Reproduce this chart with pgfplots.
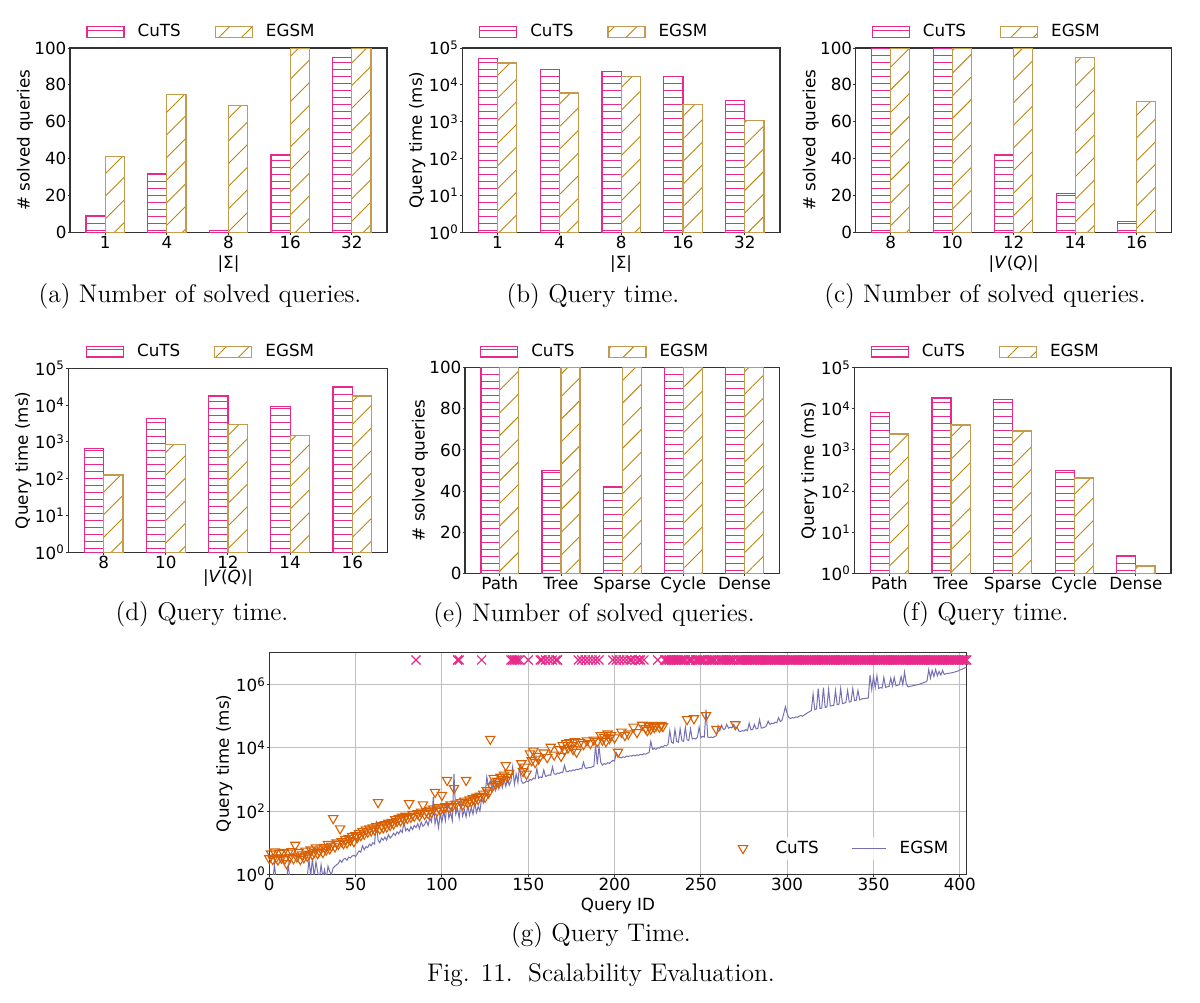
\documentclass[border=0pt]{standalone}
\usepackage{fontspec}
\setsansfont{DejaVu Sans}
\usepackage{pgfplots}
\pgfplotsset{compat=1.18}
\usetikzlibrary{patterns.meta}
\definecolor{cutspink}{HTML}{E7298A}
\definecolor{egsmgold}{HTML}{B8860B}
\definecolor{egsmedge}{HTML}{C49A4E}
\definecolor{triorange}{HTML}{D95F02}
\definecolor{egsmline}{HTML}{7570B3}
\tikzdeclarepattern{
  name=cutshatch,
  type=colored,
  bottom left={(0bp,0bp)},
  top right={(3.7bp,3.7bp)},
  tile size={(3.7bp,3.7bp)},
  code={\draw[cutspink, line width=0.45bp] (0bp,1.85bp) -- (3.7bp,1.85bp);}
}
\newcommand{\axfont}{\sffamily\fontsize{8.4}{10}\selectfont}
\newcommand{\capfont}{\rmfamily\fontsize{12.8}{15}\selectfont}
\pgfplotsset{
  common/.style={
    scale only axis,
    anchor=north west,
    font=\axfont,
    axis line style={black!80, line width=0.55bp},
    tick style={black!80, line width=0.5bp},
    major tick length=1.2bp,
    minor tick num=0,
    xminorticks=false,
    yminorticks=false,
    tick align=outside,
    tick pos=left,
    ticklabel style={font=\axfont},
    yticklabel style={inner xsep=0.4bp},
    xticklabel style={inner ysep=0.5bp},
    label style={font=\axfont},
    every axis y label/.style={at={(rel axis cs:0,0.5)}, xshift=-22.5bp, rotate=90, anchor=center},
    every axis x label/.style={at={(rel axis cs:0.5,0)}, yshift=-16bp, anchor=center},
  },
  barchart/.style={
    common,
    ybar=0pt,
    bar width=0.31,
    xmin=-0.57, xmax=4.57,
    xtick={0,1,2,3,4},
    legend columns=2,
    legend style={at={(0.5,1)}, anchor=south, xshift=-14bp, yshift=3bp,
      draw=none, fill=none, inner sep=0bp, font=\axfont,
      nodes={inner xsep=0bp, inner ysep=1bp},
      /tikz/every odd column/.style={column sep=6.5bp},
      /tikz/every even column/.style={column sep=17bp}},
  },
  linbar/.style={barchart, ymin=0, ymax=100, ytick={0,20,40,60,80,100}, yticklabels={0,20,40,60,80,100}},
  logbar/.style={barchart, ymin=1, ymax=1e5,
    ytick={1,10,100,1000,10000,100000},
    yticklabels={10\textsuperscript{0},10\textsuperscript{1},10\textsuperscript{2},10\textsuperscript{3},10\textsuperscript{4},10\textsuperscript{5}}},
  cuts/.style={draw=cutspink, line width=0.6bp,
    pattern=cutshatch,
    legend image code/.code={\draw[##1] (0bp,-2.75bp) rectangle (18.5bp,2.75bp);}},
  egsm/.style={draw=egsmedge, line width=0.6bp,
    pattern={Lines[angle=45,distance=8bp,line width=0.45bp]}, pattern color=egsmgold,
    legend image code/.code={\draw[##1] (0bp,-2.75bp) rectangle (18.5bp,2.75bp);}},
  trilegend/.style={legend image code/.code={\draw[##1] plot coordinates {(7.5bp,0bp)}; \path (0bp,0bp) (17bp,0bp);}},
}
\begin{document}
\begin{tikzpicture}
\path[use as bounding box] (0,0) rectangle (600bp,-501.5bp);

% (a)
\begin{axis}[linbar, at={(35bp,-24bp)}, width=158.5bp, height=92.25bp,
  xticklabels={1,4,8,16,32}, xlabel={|Σ|}, ylabel={\# solved queries}]
\addplot[cuts] coordinates {(0,9) (1,32) (2,1) (3,42) (4,95)};
\addplot[egsm] coordinates {(0,41) (1,75) (2,69) (3,100) (4,100)};
\legend{CuTS,EGSM}
\end{axis}

% (b)
\begin{axis}[ymode=log, log origin=0, logbar, at={(231.15bp,-24bp)}, width=158.85bp, height=92.25bp,
  xticklabels={1,4,8,16,32}, xlabel={|Σ|}, ylabel={Query time (ms)}]
\addplot[cuts] coordinates {(0,51000) (1,25800) (2,23200) (3,17000) (4,3780)};
\addplot[egsm] coordinates {(0,39000) (1,6000) (2,17000) (3,2880) (4,1060)};
\legend{CuTS,EGSM}
\end{axis}

% (c)
\begin{axis}[linbar, at={(427.85bp,-24bp)}, width=158bp, height=92.25bp,
  xticklabels={8,10,12,14,16}, xlabel={|\textit{V}(\textit{Q})|}, ylabel={\# solved queries}]
\addplot[cuts] coordinates {(0,100) (1,100) (2,42) (3,21) (4,6)};
\addplot[egsm] coordinates {(0,100) (1,100) (2,100) (3,95) (4,71)};
\legend{CuTS,EGSM}
\end{axis}

% (d)
\begin{axis}[ymode=log, log origin=0, logbar, at={(34.15bp,-184.15bp)}, width=159.7bp, height=92bp,
  xticklabels={8,10,12,14,16}, xlabel={|\textit{V}(\textit{Q})|}, ylabel={Query time (ms)},
  every axis x label/.style={at={(rel axis cs:0.5,0)}, yshift=-13bp, anchor=center}]
\addplot[cuts] coordinates {(0,670) (1,4380) (2,17700) (3,9300) (4,31800)};
\addplot[egsm] coordinates {(0,126) (1,861) (2,2940) (3,1480) (4,17700)};
\legend{CuTS,EGSM}
\end{axis}

% (e)
\begin{axis}[linbar, at={(232.5bp,-183.85bp)}, width=157.15bp, height=102.8bp,
  xticklabels={Path,Tree,Sparse,Cycle,Dense}, ylabel={\# solved queries}]
\addplot[cuts] coordinates {(0,100) (1,50) (2,42) (3,100) (4,100)};
\addplot[egsm] coordinates {(0,100) (1,100) (2,100) (3,100) (4,100)};
\legend{CuTS,EGSM}
\end{axis}

% (f)
\begin{axis}[ymode=log, log origin=0, logbar, at={(427.15bp,-183.85bp)}, width=158.35bp, height=102.8bp,
  xticklabels={Path,Tree,Sparse,Cycle,Dense}, ylabel={Query time (ms)}]
\addplot[cuts] coordinates {(0,8200) (1,18300) (2,16700) (3,313) (4,2.74)};
\addplot[egsm] coordinates {(0,2440) (1,4040) (2,2880) (3,208) (4,1.51)};
\legend{CuTS,EGSM}
\end{axis}

% (g)
\begin{axis}[common, at={(134.65bp,-326.15bp)}, width=348.7bp, height=111bp,
  ymode=log, xmin=0, xmax=404, ymin=1, ymax=1.05e7,
  xtick={0,50,100,150,200,250,300,350,400},
  xticklabels={0,50,100,150,200,250,300,350,400},
  ytick={1,100,10000,1000000},
  yticklabels={10\textsuperscript{0},10\textsuperscript{2},10\textsuperscript{4},10\textsuperscript{6}},
  grid=major, major grid style={black!25, line width=0.5bp},
  xlabel={Query ID}, ylabel={Query time (ms)},
  legend columns=2,
  legend style={at={(1,0)}, anchor=east, xshift=-8bp, yshift=13bp,
    draw=none, fill=white, fill opacity=0.8, text opacity=1, inner sep=1bp, font=\axfont,
    nodes={inner xsep=0bp, inner ysep=1bp},
    /tikz/every odd column/.style={column sep=6.5bp},
    /tikz/every even column/.style={column sep=16.5bp}}]
\addplot[only marks, mark=triangle, mark size=2.7bp, draw=triorange, line width=0.55bp,
  mark options={rotate=180, fill=none, draw=triorange}, trilegend] coordinates {
(0,3.2) (1,4.5) (2,3.0) (3,5.2) (4,3.4) (5,2.9) (6,4.6) (7,3.3) (8,5.0) (9,3.1)
(10,2.2) (11,4.8) (12,3.5) (13,5.3) (14,3.2) (15,8.5) (16,3.6) (17,5.0) (18,3.0) (19,4.2)
(20,3.4) (21,5.5) (22,3.8) (23,4.4) (24,6.0) (25,4.2) (26,5.0) (27,7.0) (28,4.6) (29,5.5)
(30,6.5) (31,5.0) (32,7.2) (33,6.0) (34,9.0) (35,6.5) (36,8.0) (37,59) (38,7.5) (39,10)
(40,9.0) (41,28) (42,11) (43,9.5) (44,13) (45,10) (46,14) (47,12) (48,16) (49,11)
(50,17) (51,15) (52,20) (53,17) (54,23) (55,19) (56,26) (57,22) (58,28) (59,24)
(60,30) (61,26) (62,33) (63,190) (64,28) (65,35) (66,30) (67,38) (68,32) (69,42)
(70,36) (71,45) (72,40) (73,55) (74,48) (75,60) (76,50) (77,65) (78,55) (79,70)
(80,60) (81,175) (82,65) (83,80) (84,70) (86,85) (87,72) (88,95) (89,160)
(90,80) (91,100) (92,85) (93,110) (94,90) (95,120) (96,400) (97,100) (98,130) (99,110)
(100,320) (101,120) (102,140) (103,950) (104,130) (105,160) (106,140) (107,530) (108,170)
(111,190) (112,160) (113,210) (114,950) (115,180) (116,230) (117,200) (118,250) (119,220)
(120,280) (121,240) (122,300) (124,350) (125,280) (126,450) (127,380) (128,19000) (129,600)
(130,1100) (131,700) (132,900) (133,800) (134,1200) (135,1000) (136,1400) (137,2800) (138,1200) (139,1600)
(146,3200) (147,1800) (148,2500) (149,1500)
(151,6600) (152,4000) (153,8000) (154,3500) (155,5500) (156,4500) (159,7000)
(161,5000) (163,10700) (165,6000) (168,9000) (169,5500)
(170,12000) (171,8500) (172,14000) (173,10000) (174,15000) (175,12000) (176,9000) (177,16000) (178,7400)
(180,15000) (182,13000) (184,17000) (186,14000) (188,18000)
(190,16000) (192,25000) (193,18000) (194,22000) (195,16000) (196,28000) (197,20000) (198,25000)
(200,21000) (202,7400) (204,32000) (206,25000) (208,28000)
(211,46000) (213,31000) (216,53000) (218,42000) (219,36000)
(220,48000) (221,40000) (222,52000) (223,45000) (224,50000) (226,46000) (227,52000) (228,48000)
(242,80000) (246,85000) (253,107000) (259,39000) (270,55000)
};
\addlegendentry{CuTS}
\addplot[egsmline, line width=0.5bp, mark=none] coordinates {
(0,0.5) (1,0.7) (2,0.6) (3,2.0) (4,0.6) (5,0.5) (6,0.4) (7,0.5) (8,0.6) (9,0.5)
(10,0.7) (11,2.0) (12,0.6) (13,0.5) (14,0.6) (15,0.5) (16,0.4) (17,0.5) (18,0.6) (19,0.5)
(20,0.6) (21,0.5) (22,0.8) (23,3.0) (24,0.9) (25,3.2) (26,0.8) (27,2.5) (28,1.2) (29,0.7)
(30,2.0) (31,0.8) (32,1.4) (33,0.7) (34,1.8) (35,1.2) (36,1.0) (37,1.6) (38,1.8) (39,2.0)
(40,2.2) (41,2.8) (42,2.4) (43,3.0) (44,3.2) (45,2.8) (46,3.5) (47,3.3) (48,3.8) (49,4.0)
(50,3.6) (51,4.5) (52,5.5) (53,5.0) (54,8.0) (55,6.0) (56,7.5) (57,7.0) (58,9.0) (59,8.0)
(60,10) (61,9) (62,50) (63,12) (64,10) (65,14) (66,12) (67,15) (68,12) (69,18)
(70,14) (71,16) (72,20) (73,17) (74,22) (75,19) (76,25) (77,21) (78,45) (79,24)
(80,28) (81,23) (82,32) (83,26) (84,35) (85,30) (86,40) (87,28) (88,45) (89,33)
(90,38) (91,50) (92,35) (93,60) (94,45) (95,280) (96,40) (97,70) (98,30) (99,80)
(100,45) (101,100) (102,50) (103,200) (104,60) (105,90) (106,50) (107,1500) (108,80) (109,120)
(110,60) (111,200) (112,70) (113,110) (114,65) (115,150) (116,75) (117,130) (118,80) (119,180)
(120,90) (121,140) (122,100) (123,250) (124,180) (125,300) (126,1200) (127,600) (128,900) (129,500)
(130,700) (131,450) (132,800) (133,500) (134,900) (135,550) (136,1000) (137,600) (138,1100) (139,650)
(140,900) (141,2500) (142,700) (143,1500) (144,800) (145,3000) (146,900) (147,750) (148,800) (149,900)
(150,850) (151,1000) (152,950) (153,1100) (154,1050) (155,2200) (156,1100) (157,1200) (158,1150) (159,2000)
(160,1250) (161,1300) (162,1400) (163,1350) (164,2500) (165,1500) (166,1450) (167,1600) (168,1550) (169,1700)
(170,1650) (171,2800) (172,1800) (173,1750) (174,1900) (175,1850) (176,2000) (177,1950) (178,2100) (179,2050)
(180,2200) (181,2150) (182,3500) (183,2300) (184,2250) (185,2400) (186,2350) (187,2500) (188,2600) (189,12000)
(190,3000) (191,11000) (192,3500) (193,2800) (194,3200) (195,3000) (196,3400) (197,3200) (198,3600) (199,4000)
(200,3800) (201,7000) (202,5500) (203,5000) (204,4800) (205,5200) (206,5000) (207,5500) (208,5300) (209,5600)
(210,5500) (211,5800) (212,5600) (213,6000) (214,5800) (215,6200) (216,6000) (217,6500) (218,6300) (219,6800)
(220,7000) (221,16000) (222,9000) (223,9500) (224,9000) (225,10000) (226,9800) (227,11000) (228,10500) (229,12000)
(230,11500) (231,13000) (232,35000) (233,15000) (234,14000) (235,38000) (236,16000) (237,15000) (238,40000) (239,17000)
(240,16000) (241,45000) (242,18000) (243,17000) (244,40000) (245,19000) (246,20000) (247,19000) (248,22000) (249,45000)
(250,21000) (251,23000) (252,22000) (253,160000) (254,22000) (255,21000) (256,22000) (257,21000) (258,23000) (259,24000)
(260,50000) (261,35000) (262,52000) (263,38000) (264,40000) (265,55000) (266,42000) (267,45000) (268,43000) (269,55000)
(270,44000) (271,45000) (272,34000) (273,33000) (274,35000) (275,34000) (276,38000) (277,35000) (278,60000) (279,37000)
(280,38000) (281,55000) (282,40000) (283,41000) (284,78000) (285,42000) (286,43000) (287,45000) (288,50000) (289,70000)
(290,55000) (291,60000) (292,58000) (293,65000) (294,62000) (295,90000) (296,68000) (297,75000) (298,120000) (299,200000)
(300,120000) (301,90000) (302,85000) (303,90000) (304,88000) (305,95000) (306,92000) (307,100000) (308,105000) (309,100000)
(310,110000) (311,120000) (312,130000) (313,140000) (314,150000) (315,500000) (316,160000) (317,170000) (318,750000) (319,175000)
(320,180000) (321,800000) (322,190000) (323,195000) (324,700000) (325,210000) (326,215000) (327,220000) (328,650000) (329,230000)
(330,240000) (331,750000) (332,250000) (333,260000) (334,270000) (335,650000) (336,280000) (337,290000) (338,750000) (339,310000)
(340,320000) (341,650000) (342,330000) (343,350000) (344,360000) (345,360000) (346,370000) (347,380000) (348,2000000) (349,700000)
(350,1800000) (351,800000) (352,1900000) (353,760000) (354,800000) (355,780000) (356,1700000) (357,820000) (358,850000) (359,880000)
(360,1600000) (361,900000) (362,1700000) (363,920000) (364,950000) (365,1000000) (366,1800000) (367,1000000) (368,2500000) (369,1050000)
(370,850000) (371,880000) (372,900000) (373,930000) (374,950000) (375,980000) (376,1000000) (377,1050000) (378,1100000) (379,1150000)
(380,1200000) (381,1300000) (382,3000000) (383,1600000) (384,2800000) (385,1800000) (386,3000000) (387,1900000) (388,2600000) (389,2000000)
(390,2800000) (391,2100000) (392,2200000) (393,2250000) (394,2300000) (395,2350000) (396,2400000) (397,2500000) (398,2600000) (399,2700000)
(400,2900000) (401,3000000) (402,3200000) (403,3400000) (404,3600000)
};
\addlegendentry{EGSM}
\addplot[only marks, mark=x, mark size=3.2bp, draw=cutspink, line width=0.6bp, forget plot] coordinates {
(85,6e6) (109,6e6) (110,6e6) (123,6e6) (140,6e6) (141,6e6) (142,6e6) (143,6e6) (144,6e6) (145,6e6)
(150,6e6) (157,6e6) (158,6e6) (160,6e6) (162,6e6) (164,6e6) (166,6e6) (167,6e6)
(179,6e6) (181,6e6) (183,6e6) (185,6e6) (187,6e6) (189,6e6) (191,6e6)
(199,6e6) (201,6e6) (203,6e6) (205,6e6) (207,6e6) (209,6e6) (210,6e6) (212,6e6) (214,6e6) (215,6e6) (217,6e6) (225,6e6)
(229,6e6) (230,6e6) (231,6e6) (232,6e6) (233,6e6) (234,6e6) (235,6e6) (236,6e6) (237,6e6) (238,6e6) (239,6e6)
(240,6e6) (241,6e6) (243,6e6) (244,6e6) (245,6e6) (247,6e6) (248,6e6) (249,6e6)
(250,6e6) (251,6e6) (252,6e6) (254,6e6) (255,6e6) (256,6e6) (257,6e6) (258,6e6)
(260,6e6) (261,6e6) (262,6e6) (263,6e6) (264,6e6) (265,6e6) (266,6e6) (267,6e6) (268,6e6) (269,6e6)
(271,6e6) (272,6e6) (273,6e6) (274,6e6) (275,6e6) (276,6e6) (277,6e6) (278,6e6) (279,6e6)
(280,6e6) (281,6e6) (282,6e6) (283,6e6) (284,6e6) (285,6e6) (286,6e6) (287,6e6) (288,6e6) (289,6e6)
(290,6e6) (291,6e6) (292,6e6) (293,6e6) (294,6e6) (295,6e6) (296,6e6) (297,6e6) (298,6e6) (299,6e6)
(300,6e6) (301,6e6) (302,6e6) (303,6e6) (304,6e6) (305,6e6) (306,6e6) (307,6e6) (308,6e6) (309,6e6)
(310,6e6) (311,6e6) (312,6e6) (313,6e6) (314,6e6) (315,6e6) (316,6e6) (317,6e6) (318,6e6) (319,6e6)
(320,6e6) (321,6e6) (322,6e6) (323,6e6) (324,6e6) (325,6e6) (326,6e6) (327,6e6) (328,6e6) (329,6e6)
(330,6e6) (331,6e6) (332,6e6) (333,6e6) (334,6e6) (335,6e6) (336,6e6) (337,6e6) (338,6e6) (339,6e6)
(340,6e6) (341,6e6) (342,6e6) (343,6e6) (344,6e6) (345,6e6) (346,6e6) (347,6e6) (348,6e6) (349,6e6)
(350,6e6) (351,6e6) (352,6e6) (353,6e6) (354,6e6) (355,6e6) (356,6e6) (357,6e6) (358,6e6) (359,6e6)
(360,6e6) (361,6e6) (362,6e6) (363,6e6) (364,6e6) (365,6e6) (366,6e6) (367,6e6) (368,6e6) (369,6e6)
(370,6e6) (371,6e6) (372,6e6) (373,6e6) (374,6e6) (375,6e6) (376,6e6) (377,6e6) (378,6e6) (379,6e6)
(380,6e6) (381,6e6) (382,6e6) (383,6e6) (384,6e6) (385,6e6) (386,6e6) (387,6e6) (388,6e6) (389,6e6)
(390,6e6) (391,6e6) (392,6e6) (393,6e6) (394,6e6) (395,6e6) (396,6e6) (397,6e6) (398,6e6) (399,6e6)
(400,6e6) (401,6e6) (402,6e6) (403,6e6) (404,6e6)
};
\end{axis}

% captions
\node[font=\capfont, anchor=center] at (100bp,-148bp) {(a) Number of solved queries.};
\node[font=\capfont, anchor=center] at (296.5bp,-148bp) {(b) Query time.};
\node[font=\capfont, anchor=center] at (492.5bp,-148bp) {(c) Number of solved queries.};
\node[font=\capfont, anchor=center] at (101bp,-307bp) {(d) Query time.};
\node[font=\capfont, anchor=center] at (297bp,-307.5bp) {(e) Number of solved queries.};
\node[font=\capfont, anchor=center] at (492.5bp,-307bp) {(f) Query time.};
\node[font=\capfont, anchor=center] at (300.5bp,-467.5bp) {(g) Query Time.};
\node[font=\capfont, anchor=center] at (300.5bp,-487.5bp) {Fig. 11.\hspace{0.6em}Scalability Evaluation.};
\end{tikzpicture}
\end{document}
